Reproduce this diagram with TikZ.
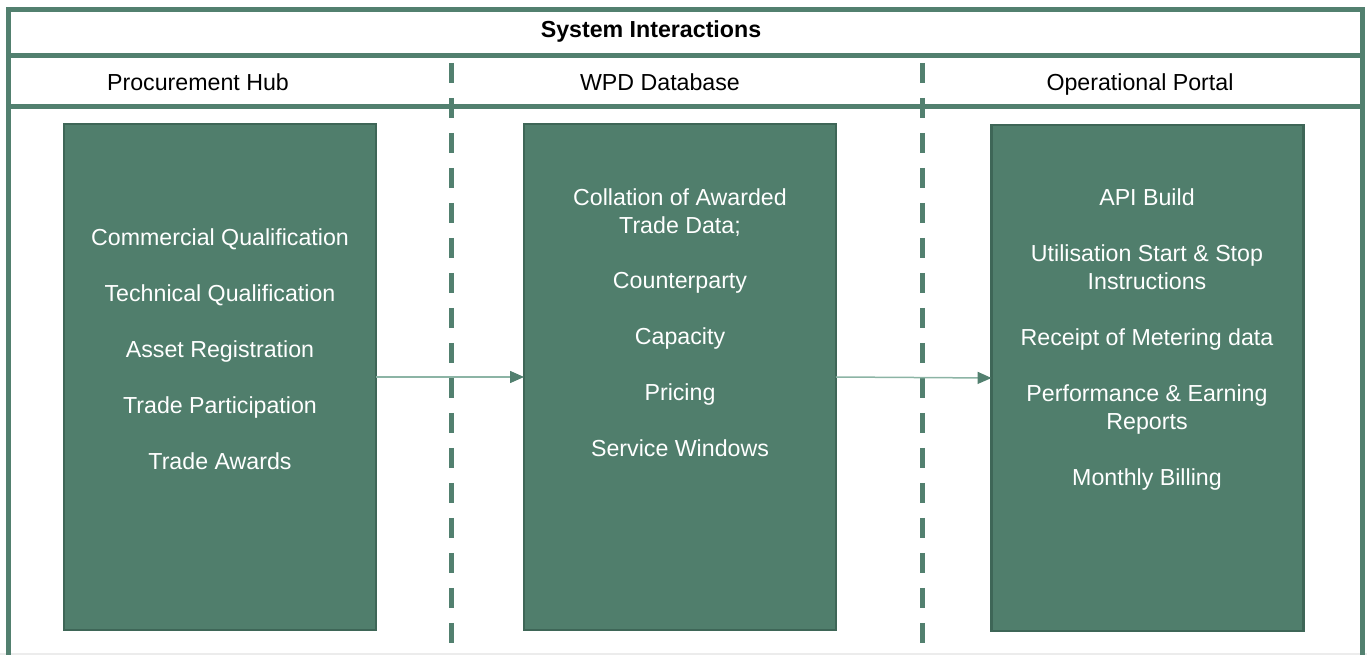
\documentclass[tikz,border=0pt]{standalone}
\usepackage{fontspec}
\setmainfont{Liberation Sans}
\usetikzlibrary{arrows.meta}
\definecolor{framegreen}{RGB}{82,128,111}
\definecolor{boxgreen}{RGB}{80,126,108}
\definecolor{boxedge}{RGB}{62,102,87}
\definecolor{flowgreen}{RGB}{140,180,165}
\begin{document}
\begin{tikzpicture}[x=0.02cm,y=-0.02cm,inner sep=0pt,outer sep=0pt,
borderline/.style={draw=framegreen,line width=0.1cm},
laneline/.style={draw=framegreen,line width=0.1cm,dash pattern=on 0.4cm off 0.3cm},
stagebox/.style={draw=boxedge,fill=boxgreen,line width=0.05cm,minimum width=6.24cm,minimum height=10.12cm},
itemtext/.style={text=white,align=center,font=\fontsize{13.2pt}{15.9pt}\selectfont},
headtext/.style={anchor=base,font=\fontsize{13.2pt}{15.9pt}\selectfont},
flow/.style={draw=flowgreen,line width=0.03cm,-{Triangle[length=0.28cm,width=0.24cm,color=framegreen]}}]
\useasboundingbox (0,0) rectangle (1367,655);
\draw[gray!15,line width=0.03cm] (0,654) -- (1367,654);
% frame
\draw[borderline] (8.5,655) -- (8.5,9.5) -- (1362,9.5) -- (1362,655);
\draw[borderline] (8.5,56) -- (1362,56);
\draw[borderline] (8.5,107) -- (1362,107);
\draw[laneline] (451,63) -- (451,655);
\draw[laneline] (922,63) -- (922,655);
% headings
\node[headtext,font=\bfseries\fontsize{13.2pt}{15.9pt}\selectfont] (title) at (651,37.5) {System Interactions};
\node[headtext] (hubhead) at (198,91) {Procurement Hub};
\node[headtext] (dbhead) at (660,91) {WPD Database};
\node[headtext] (portalhead) at (1140,91) {Operational Portal};
% stages
\node[stagebox] (hub) at (220,377) {};
\node[stagebox] (db) at (680,377) {};
\node[stagebox] (portal) at (1147.5,378) {};
\node[itemtext] (hubtxt) at (220,349) {Commercial Qualification\\[15.9pt]
  Technical Qualification\\[15.9pt] Asset Registration\\[15.9pt]
  Trade Participation\\[15.9pt] Trade Awards};
\node[itemtext] (dbtxt) at (680,322.5) {Collation of Awarded\\ Trade Data;\\[15.9pt]
  Counterparty\\[15.9pt] Capacity\\[15.9pt] Pricing\\[15.9pt] Service Windows};
\node[itemtext] (portaltxt) at (1147,339.5) {API Build\\[15.9pt]
  Utilisation Start \& Stop\\ Instructions\\[15.9pt]
  Receipt of Metering data\\[15.9pt] Performance \& Earning\\ Reports\\[15.9pt]
  Monthly Billing};
\draw[flow] (hub.east) -- (db.west);
\draw[flow] (db.east) -- (portal.west);
\end{tikzpicture}
\end{document}
